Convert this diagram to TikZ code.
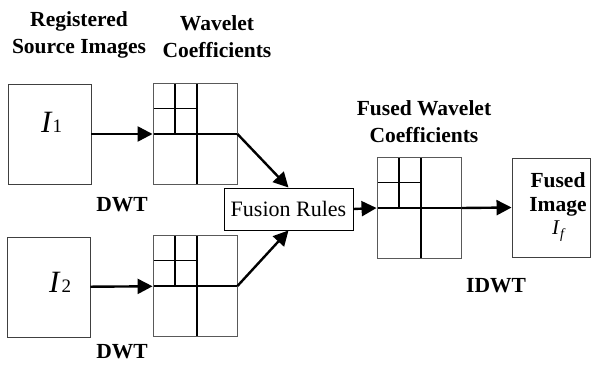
\documentclass[tikz,border=0pt]{standalone}
\usepackage{fontspec}
\setmainfont{Liberation Serif}
\usetikzlibrary{arrows.meta}

% italic image symbol I with a small index: sizes, kern, raise, index
\newcommand\imgI[5]{{\fontsize{#1}{#1}\selectfont\itshape I}\kern#3\raisebox{#4}{\fontsize{#2}{#2}\selectfont #5}}

\begin{document}
\begin{tikzpicture}[x=1pt,y=-1pt]
\tikzset{
  imgbox/.style={draw=black!75, line width=0.9pt, minimum width=83pt,
    minimum height=100pt, inner sep=0pt},
  gridline/.style={draw=black, line width=1.7pt},
  wgrid/.style={draw=black!65, line width=0.9pt, minimum width=84pt,
    minimum height=101pt, inner sep=0pt,
    path picture={
      \draw[gridline] (path picture bounding box.west) -- (path picture bounding box.east);
      \draw[gridline] ([xshift=44pt]path picture bounding box.north west)
        -- ([xshift=44pt]path picture bounding box.south west);
      \draw[gridline] ([xshift=22pt]path picture bounding box.north west)
        -- ([xshift=22pt]path picture bounding box.west);
      \draw[gridline] ([yshift=-25pt]path picture bounding box.north west)
        -- ([xshift=44pt,yshift=-25pt]path picture bounding box.north west);
    }},
  rulebox/.style={draw, line width=0.9pt, minimum width=129pt,
    minimum height=42pt, inner sep=0pt, font=\fontsize{22}{26}\selectfont},
  caption/.style={font=\bfseries\fontsize{21.5}{27}\selectfont, align=center,
    inner sep=0pt},
  symb/.style={inner sep=0pt, anchor=base west},
  flow/.style={line width=2.4pt, -{Triangle[length=15pt,width=15pt]}},
}
\useasboundingbox (0,0) rectangle (592,374);

% source images
\node[imgbox] (i1) at (49.5,134) {};
\node[imgbox] (i2) at (48.5,287) {};
\node[symb] (i1t) at (41,133) {\imgI{31}{19}{1pt}{0pt}{1}};
\node[symb] (i2t) at (49,293) {\imgI{31}{19}{2pt}{0pt}{2}};

% wavelet decompositions
\node[wgrid] (g1) at (195,134) {};
\node[wgrid] (g2) at (195,286) {};
\node[wgrid] (g3) at (419,208) {};

% fusion and output
\node[rulebox] (fr) at (288.5,209) {Fusion Rules};
\node[imgbox, minimum width=78pt, minimum height=99pt] (fo) at (551,207.5) {};
\node[caption, font=\bfseries\fontsize{21.5}{24.5}\selectfont] (fot) at (558,207)
  {Fused\\Image\\[-2pt]\mdseries\imgI{21}{14}{1pt}{-4pt}{\itshape f}};

% captions
\node[caption] (c1) at (79,35) {Registered\\Source Images};
\node[caption] (c2) at (217,37) {Wavelet\\Coefficients};
\node[caption] (c3) at (424,122) {Fused Wavelet\\Coefficients};
\node[caption] (d1) at (122,205) {DWT};
\node[caption] (d2) at (122,352) {DWT};
\node[caption] (d3) at (496,286) {IDWT};

% connectors
\draw[flow] (i1) -- (g1);
\draw[flow] (i2) -- (g2);
\draw[flow] (g1.east) -- (fr.north);
\draw[flow] (g2.east) -- (fr.south);
\draw[flow] (fr.east) -- (g3.west);
\draw[flow] (g3.east) -- (fo.west);
\end{tikzpicture}
\end{document}
